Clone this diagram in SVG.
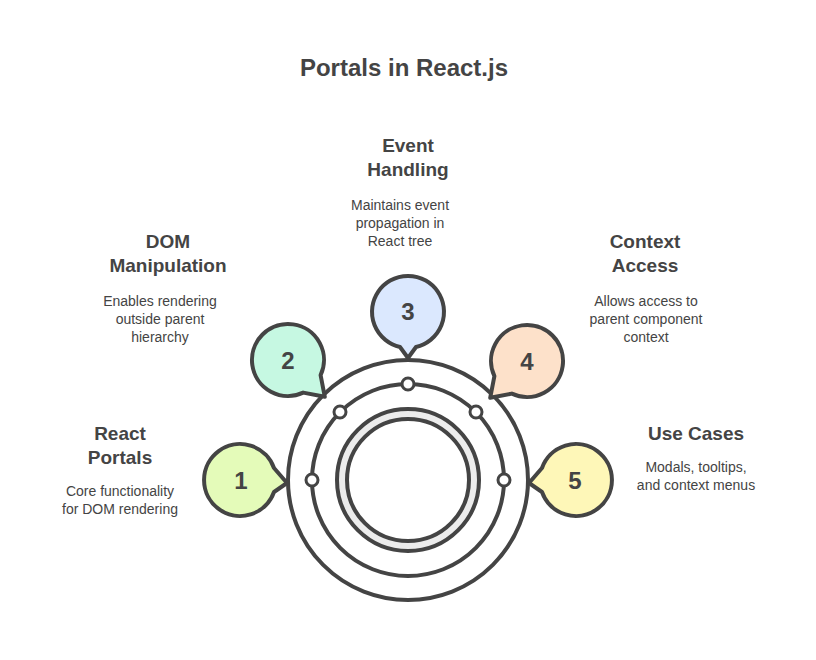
<svg xmlns="http://www.w3.org/2000/svg" width="816" height="660" viewBox="0 0 816 660">
<style>
.ring{fill:none;stroke:#444;stroke-width:4}
.dot{fill:#fff;stroke:#444;stroke-width:3}
.b{stroke:#444;stroke-width:4;stroke-linejoin:round}
.num{font-family:"Liberation Sans",sans-serif;font-weight:bold;font-size:24px;fill:#444;text-anchor:middle}
.h{font-family:"Liberation Sans",sans-serif;font-weight:bold;font-size:19px;fill:#444;text-anchor:middle}
.d{font-family:"Liberation Sans",sans-serif;font-size:14px;fill:#444;text-anchor:middle}
</style>
<rect width="816" height="660" fill="#fff"/>
<text x="404" y="76" class="h" style="font-size:24px">Portals in React.js</text>
<g id="connectors">
<circle cx="408" cy="480" r="120" class="ring"/>
<circle cx="408" cy="480" r="96" class="ring"/>
<circle cx="408" cy="480" r="66" fill="none" stroke="#ececec" stroke-width="8"/>
<circle cx="408" cy="480" r="71" class="ring"/>
<circle cx="408" cy="480" r="61" class="ring"/>
<circle cx="312" cy="480" r="6" class="dot"/>
<circle cx="340" cy="412" r="6" class="dot"/>
<circle cx="408" cy="384" r="6" class="dot"/>
<circle cx="476" cy="412" r="6" class="dot"/>
<circle cx="504" cy="480" r="6" class="dot"/>
</g>
<g id="node1">
<path class="b" fill="#e4fbb9" d="M274 468 A36 36 0 1 0 274 492 L287 483 Z"/>
<text x="241" y="489" class="num">1</text>
<text x="120" y="440" class="h">React</text><text x="120" y="464" class="h">Portals</text>
<text x="120" y="496" class="d">Core functionality</text><text x="120" y="514" class="d">for DOM rendering</text>
</g>
<g id="node2">
<path class="b" fill="#c6f8e2" d="M303.2 392.6 A36 36 0 1 1 320.6 375.2 L324.8 396.8 Z"/>
<text x="288" y="369" class="num">2</text>
<text x="168" y="248" class="h">DOM</text><text x="168" y="272" class="h">Manipulation</text>
<text x="160" y="306" class="d">Enables rendering</text><text x="160" y="324" class="d">outside parent</text><text x="160" y="342" class="d">hierarchy</text>
</g>
<g id="node3">
<path class="b" fill="#dbe8fe" d="M400 347 A36 36 0 1 1 416 347 L408 358 Z"/>
<text x="408" y="320" class="num">3</text>
<text x="408" y="152" class="h">Event</text><text x="408" y="176" class="h">Handling</text>
<text x="400" y="210" class="d">Maintains event</text><text x="400" y="228" class="d">propagation in</text><text x="400" y="246" class="d">React tree</text>
</g>
<g id="node4">
<path class="b" fill="#fde1ca" d="M494.4 376.2 A36 36 0 1 1 511.8 393.6 L490.2 397.8 Z"/>
<text x="527" y="370" class="num">4</text>
<text x="645" y="248" class="h">Context</text><text x="645" y="272" class="h">Access</text>
<text x="646" y="306" class="d">Allows access to</text><text x="646" y="324" class="d">parent component</text><text x="646" y="342" class="d">context</text>
</g>
<g id="node5">
<path class="b" fill="#fef7b8" d="M542 468 A36 36 0 1 1 542 492 L529 483 Z"/>
<text x="575" y="489" class="num">5</text>
<text x="696" y="440" class="h">Use Cases</text>
<text x="696" y="472" class="d">Modals, tooltips,</text><text x="696" y="490" class="d">and context menus</text>
</g>
</svg>
